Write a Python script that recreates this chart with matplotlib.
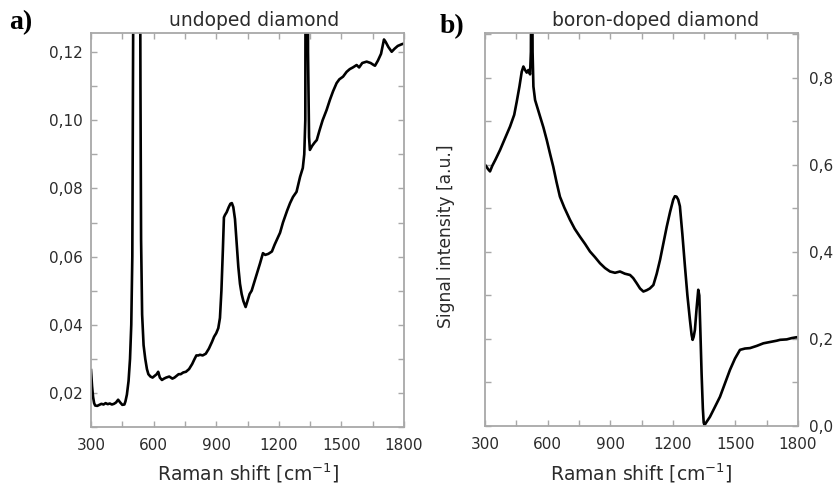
import matplotlib
matplotlib.use("Agg")
import matplotlib.pyplot as plt
from matplotlib.ticker import MultipleLocator, FuncFormatter

# ---- data: panel a (undoped diamond) ----
raman_a = [300, 305, 310, 315, 320, 330, 340, 350, 360, 370, 380, 390, 400, 410, 420, 430, 440, 450,
           460, 465, 472, 480, 487, 493, 498, 502, 506, 510, 515, 520, 525, 530, 534, 537, 540, 545,
           552, 560, 568, 575, 585, 595, 605, 615, 622, 630, 640, 650, 660, 675, 690, 700, 710, 720,
           730, 742, 755, 770, 785, 795, 805, 815, 822, 835, 850, 865, 880, 890, 900, 910, 918, 925,
           932, 937, 942, 950, 960, 968, 975, 982, 990, 998, 1006, 1014, 1022, 1030, 1041, 1050, 1060,
           1070, 1080, 1095, 1110, 1124, 1135, 1150, 1167, 1180, 1195, 1206, 1220, 1240, 1254, 1268,
           1285, 1302, 1315, 1322, 1327, 1330, 1333, 1336, 1340, 1345, 1349, 1360, 1372, 1382, 1395,
           1410, 1429, 1445, 1460, 1477, 1490, 1508, 1525, 1540, 1555, 1573, 1585, 1600, 1621, 1640,
           1655, 1661, 1675, 1690, 1704, 1712, 1725, 1741, 1755, 1770, 1789, 1800]
signal_a = [0.0267, 0.022, 0.0188, 0.017, 0.0163, 0.0162, 0.0165, 0.0168, 0.0166, 0.017, 0.0167,
            0.0169, 0.0166, 0.0168, 0.0172, 0.018, 0.0172, 0.0165, 0.0166, 0.0175, 0.0195, 0.0235,
            0.030, 0.040, 0.060, 0.120, 0.22, 0.35, 0.50, 0.55, 0.50, 0.33, 0.18, 0.11, 0.065, 0.043,
            0.034, 0.030, 0.027, 0.0255, 0.0248, 0.0245, 0.025, 0.0255, 0.0262, 0.0245, 0.0238,
            0.0242, 0.0245, 0.0248, 0.0242, 0.0245, 0.025, 0.0255, 0.0255, 0.026, 0.0262, 0.027,
            0.0285, 0.0298, 0.031, 0.031, 0.0312, 0.031, 0.0315, 0.033, 0.035, 0.0365, 0.0375, 0.039,
            0.042, 0.050, 0.062, 0.0715, 0.0722, 0.073, 0.0745, 0.0755, 0.0757, 0.0745, 0.071, 0.064,
            0.057, 0.052, 0.049, 0.047, 0.0452, 0.047, 0.049, 0.050, 0.052, 0.055, 0.058, 0.061,
            0.0605, 0.0608, 0.0615, 0.0635, 0.0655, 0.067, 0.070, 0.0735, 0.0757, 0.0775, 0.079,
            0.0834, 0.086, 0.090, 0.10, 0.20, 0.40, 0.25, 0.12, 0.095, 0.0913, 0.0925, 0.0935, 0.0942,
            0.097, 0.100, 0.103, 0.106, 0.1085, 0.1109, 0.112, 0.1128, 0.1142, 0.115, 0.1155, 0.1162,
            0.1155, 0.1168, 0.1172, 0.1168, 0.1162, 0.116, 0.1175, 0.1195, 0.1237, 0.123, 0.1215,
            0.1201, 0.121, 0.1218, 0.1223, 0.1225]

# ---- data: panel b (boron-doped diamond) ----
raman_b = [300, 304, 315, 324, 335, 350, 372, 395, 420, 440, 452, 465, 476, 484, 492, 500, 508, 516,
           520, 524, 528, 532, 540, 552, 564, 580, 596, 612, 627, 643, 659, 680, 707, 730, 755, 780,
           803, 827, 851, 875, 899, 923, 947, 970, 995, 1010, 1027, 1043, 1059, 1075, 1090, 1107,
           1123, 1139, 1155, 1171, 1187, 1202, 1210, 1218, 1226, 1234, 1246, 1258, 1270, 1282, 1290,
           1295, 1300, 1306, 1314, 1322, 1327, 1332, 1338, 1344, 1348, 1352, 1360, 1378, 1400, 1426,
           1450, 1474, 1498, 1522, 1546, 1570, 1602, 1634, 1666, 1698, 1714, 1746, 1770, 1794, 1800]
signal_b = [0.600, 0.598, 0.590, 0.585, 0.598, 0.612, 0.634, 0.660, 0.688, 0.715, 0.745, 0.780,
            0.814, 0.826, 0.818, 0.812, 0.818, 0.808, 0.860, 1.300, 0.860, 0.780, 0.749, 0.730,
            0.711, 0.686, 0.657, 0.625, 0.596, 0.560, 0.527, 0.502, 0.474, 0.453, 0.435, 0.418,
            0.401, 0.388, 0.374, 0.363, 0.355, 0.352, 0.355, 0.350, 0.347, 0.340, 0.328, 0.316,
            0.309, 0.312, 0.316, 0.324, 0.350, 0.382, 0.420, 0.458, 0.492, 0.520, 0.528, 0.527,
            0.520, 0.505, 0.440, 0.368, 0.300, 0.244, 0.210, 0.198, 0.205, 0.221, 0.270, 0.313,
            0.300, 0.220, 0.120, 0.040, 0.008, 0.002, 0.008, 0.021, 0.042, 0.067, 0.098, 0.129,
            0.155, 0.175, 0.178, 0.179, 0.184, 0.190, 0.193, 0.196, 0.198, 0.199, 0.202, 0.204, 0.203]

x_ticks = [300, 600, 900, 1200, 1500, 1800]
ya_ticks = [0.02, 0.04, 0.06, 0.08, 0.10, 0.12]
yb_ticks = [0.0, 0.2, 0.4, 0.6, 0.8]

W, H = 835, 487
fig = plt.figure(figsize=(W / 100, H / 100), dpi=100)

FONT = "DejaVu Sans"
spine_col = "#a8a8a8"
text_col = "#2b2b2b"


def comma_fmt(dec):
    return FuncFormatter(lambda v, p: f"{v:.{dec}f}".replace(".", ","))


def style(ax):
    for s in ax.spines.values():
        s.set_color(spine_col)
        s.set_linewidth(1.3)
    ax.tick_params(which="both", direction="in", top=True, right=True, left=True, bottom=True,
                   length=4, width=1.0, color=spine_col, labelsize=11, labelcolor=text_col)
    ax.xaxis.set_minor_locator(MultipleLocator(150))
    ax.set_xlim(300, 1800)
    ax.set_xticks(x_ticks)
    ax.tick_params(axis="x", pad=8)


def fx(px):
    return px / W


def fy(py):
    return 1 - py / H


# panel a
axa = fig.add_axes([fx(91), fy(427), fx(404 - 91), (427 - 33) / H])
axa.plot(raman_a, signal_a, color="black", lw=1.9)
style(axa)
axa.set_ylim(0.0100, 0.1256)
axa.set_yticks(ya_ticks)
axa.yaxis.set_minor_locator(MultipleLocator(0.01))
axa.yaxis.set_major_formatter(comma_fmt(2))
axa.tick_params(axis="y", pad=6)
for lab in axa.get_xticklabels() + axa.get_yticklabels():
    lab.set_family(FONT)

# panel b
axb = fig.add_axes([fx(485), fy(426), fx(798 - 485), (426 - 33) / H])
axb.plot(raman_b, signal_b, color="black", lw=1.9)
style(axb)
axb.set_ylim(0.0, 0.903)
axb.set_yticks(yb_ticks)
axb.yaxis.set_minor_locator(MultipleLocator(0.1))
axb.yaxis.set_major_formatter(comma_fmt(1))
axb.yaxis.tick_right()
axb.tick_params(which="both", left=True, right=True, direction="in")
axb.tick_params(axis="y", pad=8)
for lab in axb.get_xticklabels() + axb.get_yticklabels():
    lab.set_family(FONT)

# titles & labels
fig.text(fx(254), fy(20), "undoped diamond", ha="center", va="center", fontsize=13.5,
         family=FONT, color=text_col)
fig.text(fx(656), fy(20), "boron-doped diamond", ha="center", va="center", fontsize=13.5,
         family=FONT, color=text_col)
fig.text(fx(248), fy(473), "Raman shift [cm$^{\\mathregular{-1}}$]", ha="center", va="center",
         fontsize=13.5, family=FONT, color=text_col)
fig.text(fx(641), fy(473), "Raman shift [cm$^{\\mathregular{-1}}$]", ha="center", va="center",
         fontsize=13.5, family=FONT, color=text_col)
fig.text(fx(446), fy(236), "Signal intensity [a.u.]", ha="center", va="center", rotation=90,
         fontsize=12.3, family=FONT, color=text_col)
fig.text(fx(9), fy(23), "a)", ha="left", va="center", fontsize=20, fontweight="bold",
         family="Liberation Serif", color="black")
fig.text(fx(440), fy(27), "b)", ha="left", va="center", fontsize=20, fontweight="bold",
         family="Liberation Serif", color="black")

fig.savefig("out.png", dpi=100)
